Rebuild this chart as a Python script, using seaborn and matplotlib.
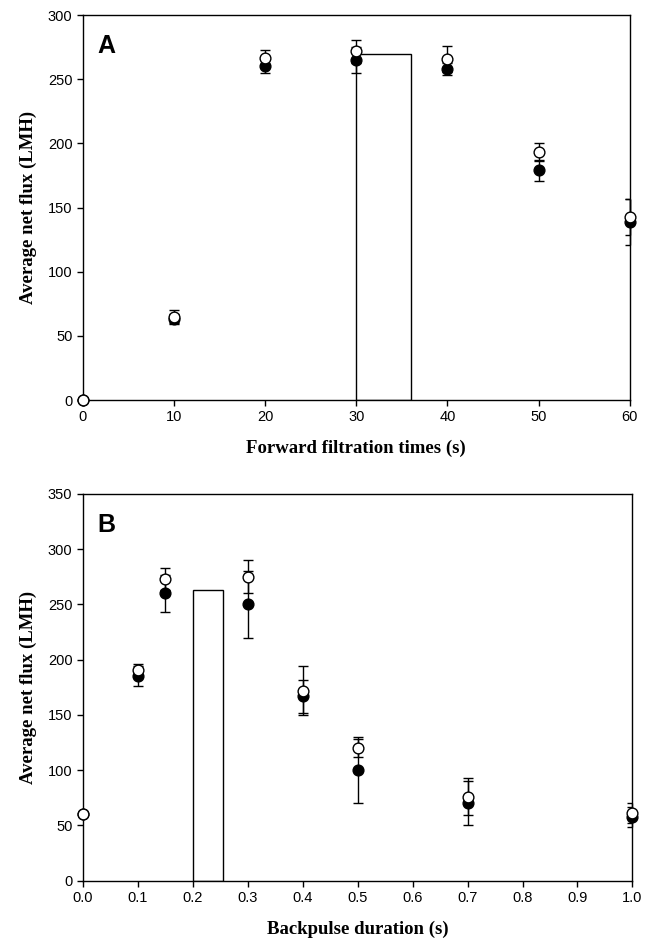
import numpy as np
import pandas as pd
import matplotlib
matplotlib.use("Agg")
import matplotlib.pyplot as plt
import seaborn as sns

# panel A - forward filtration time
fwd_x = [0, 10, 20, 30, 40, 50, 60]
fwd_closed = [0, 63, 260, 265, 258, 179, 139]
fwd_closed_err = [0, 4, 5, 10, 5, 8, 18]
fwd_open = [0, 65, 267, 272, 266, 193, 143]
fwd_open_err = [0, 5, 6, 9, 10, 7, 14]
fwd_bar_x = [30]
fwd_bar_w = [6]
fwd_bar_h = [270]

# panel B - backpulse duration
bp_x = [0.0, 0.1, 0.15, 0.3, 0.4, 0.5, 0.7, 1.0]
bp_closed = [60, 185, 260, 250, 167, 100, 70, 58]
bp_closed_err = [0, 9, 17, 30, 15, 30, 20, 9]
bp_open = [60, 191, 273, 275, 172, 120, 76, 61]
bp_open_err = [0, 5, 10, 15, 22, 8, 17, 9]
bp_bar_x = [0.2]
bp_bar_w = [0.055]
bp_bar_h = [263]

sns.set_style("ticks")
plt.rcParams['font.family'] = ['Liberation Sans', 'DejaVu Sans']
plt.rcParams['text.color'] = 'black'
plt.rcParams['axes.labelcolor'] = 'black'

fig = plt.figure(figsize=(6.52, 9.48), dpi=100)
axA = fig.add_axes([0.127, 0.578, 0.839, 0.406])
axB = fig.add_axes([0.127, 0.071, 0.843, 0.408])


def draw_panel(ax, x, yc, ec, yo, eo, bx, bw, bh):
    ax.bar(bx, bh, width=bw, align='edge', facecolor='white',
           edgecolor='black', linewidth=1.0, zorder=1)
    df = pd.DataFrame({'x': x, 'closed': yc, 'open': yo})
    ax.errorbar(x, yc, yerr=ec, fmt='none', ecolor='black',
                elinewidth=1, capsize=3.5, capthick=1, zorder=2)
    ax.errorbar(x, yo, yerr=eo, fmt='none', ecolor='black',
                elinewidth=1, capsize=3.5, capthick=1, zorder=2)
    sns.scatterplot(data=df, x='x', y='closed', ax=ax, color='black',
                    edgecolor='black', s=60, linewidth=1, zorder=3)
    sns.scatterplot(data=df, x='x', y='open', ax=ax, color='white',
                    edgecolor='black', s=60, linewidth=1, zorder=4)
    for sp in ax.spines.values():
        sp.set_linewidth(1.0)
        sp.set_color('black')
    ax.tick_params(direction='out', length=4, width=1, labelsize=10.5,
                   colors='black', top=False, right=False)
    ax.set_ylabel('Average net flux (LMH)', family='Liberation Serif',
                  fontweight='bold', fontsize=13.5, labelpad=8)


draw_panel(axA, fwd_x, fwd_closed, fwd_closed_err, fwd_open, fwd_open_err,
           fwd_bar_x, fwd_bar_w, fwd_bar_h)
axA.set_xlim(0, 60)
axA.set_ylim(0, 300)
axA.set_xticks(range(0, 61, 10))
axA.set_yticks(range(0, 301, 50))
axA.set_xlabel('Forward filtration times (s)', family='Liberation Serif',
               fontweight='bold', fontsize=13.5, labelpad=11)
axA.text(0.027, 0.95, 'A', transform=axA.transAxes, fontsize=18,
         fontweight='bold', va='top', ha='left', color='black')

draw_panel(axB, bp_x, bp_closed, bp_closed_err, bp_open, bp_open_err,
           bp_bar_x, bp_bar_w, bp_bar_h)
axB.set_xlim(0, 1.0)
axB.set_ylim(0, 350)
axB.set_xticks(np.arange(0, 1.01, 0.1))
axB.set_xticklabels([f'{v:.1f}' for v in np.arange(0, 1.01, 0.1)])
axB.set_yticks(range(0, 351, 50))
axB.set_xlabel('Backpulse duration (s)', family='Liberation Serif',
               fontweight='bold', fontsize=13.5, labelpad=11)
axB.text(0.027, 0.95, 'B', transform=axB.transAxes, fontsize=18,
         fontweight='bold', va='top', ha='left', color='black')

for ax in (axA, axB):
    for c in ax.collections:
        c.set_clip_on(False)

fig.savefig('out.png', dpi=100)
